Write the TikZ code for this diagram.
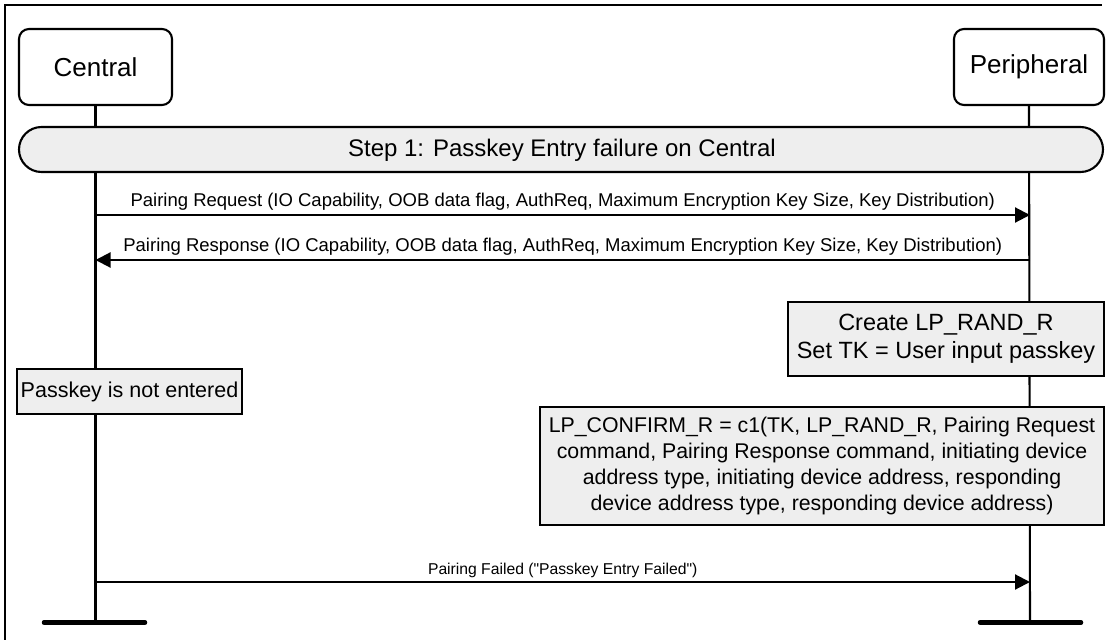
\documentclass[tikz,border=0pt]{standalone}
\usepackage{fontspec}
\setmainfont{Liberation Sans}
\usetikzlibrary{arrows.meta}
\definecolor{boxgray}{HTML}{EEEEEE}
\tikzset{
  actor/.style={draw, line width=2.1pt, rounded corners=10pt, fill=white, minimum height=76pt, font=\fontsize{26}{30}\selectfont},
  life/.style={line width=2.1pt},
  msg/.style={line width=2.1pt, -{Triangle[length=15pt,width=15pt]}},
  msglabel/.style={font=\fontsize{18.5}{22}\selectfont, inner sep=0pt},
  faillabel/.style={font=\fontsize{15.7}{18}\selectfont, inner sep=0pt},
  note/.style={draw, line width=2.1pt, fill=boxgray, align=center, inner sep=0pt},
  endbar/.style={line width=4.5pt, line cap=round},
}
\begin{document}
\begin{tikzpicture}[x=1pt,y=-1pt]
\useasboundingbox (0,0) rectangle (1109,640);
% frame
\draw[line width=2.1pt] (5,640) -- (5,5) -- (1102,5);
% actors
\node[actor, minimum width=153pt] (central) at (95.5,67) {Central};
\node[actor, minimum width=150pt] (periph) at (1029,67) {Peripheral};
% end bars
\coordinate (cend) at (95.5,622.5);
\coordinate (pend) at (1030,622.5);
\coordinate (cendL) at (44,622.5);
\coordinate (cendR) at (145,622.5);
\coordinate (pendL) at (980,622.5);
\coordinate (pendR) at (1081,622.5);
% lifelines
\draw[life] (central.south) -- (cend);
\draw[life] (periph.south) -- (pend);
\draw[endbar] (cendL) -- (cendR);
\draw[endbar] (pendL) -- (pendR);
% step bar
\draw[line width=2.1pt, fill=boxgray, rounded corners=22.5pt] (19,127) rectangle (1103,172);
\node[font=\fontsize{24}{28}\selectfont] (step) at (562,150) {Step 1: Passkey Entry failure on Central};
% messages
\coordinate (c1) at (95.5,215);
\coordinate (p1) at (1030,215);
\coordinate (c2) at (95.5,260);
\coordinate (p2) at (1030,260);
\coordinate (c3) at (95.5,582);
\coordinate (p3) at (1030,582);
\draw[msg] (c1) -- node[msglabel, above=4pt] (l1) {Pairing Request (IO Capability, OOB data flag, AuthReq, Maximum Encryption Key Size, Key Distribution)} (p1);
\draw[msg] (p2) -- node[msglabel, above=4pt] (l2) {Pairing Response (IO Capability, OOB data flag, AuthReq, Maximum Encryption Key Size, Key Distribution)} (c2);
\draw[msg] (c3) -- node[faillabel, above=3.5pt] (l3) {Pairing Failed (\textquotedbl Passkey Entry Failed\textquotedbl)} (p3);
% notes
\node[note, minimum width=316pt, minimum height=74pt, font=\fontsize{23.5}{28}\selectfont] (create) at (946,339) {Create LP\_RAND\_R\\Set TK = User input passkey};
\node[note, minimum width=225pt, minimum height=45pt, font=\fontsize{21.5}{26}\selectfont] (notent) at (129.5,391.5) {Passkey is not entered};
\node[note, minimum width=564pt, minimum height=118pt, font=\fontsize{21.3}{25.8}\selectfont] (confirm) at (822,466) {LP\_CONFIRM\_R = c1(TK, LP\_RAND\_R, Pairing Request\\command, Pairing Response command, initiating device\\address type, initiating device address, responding\\device address type, responding device address)};
\end{tikzpicture}
\end{document}
